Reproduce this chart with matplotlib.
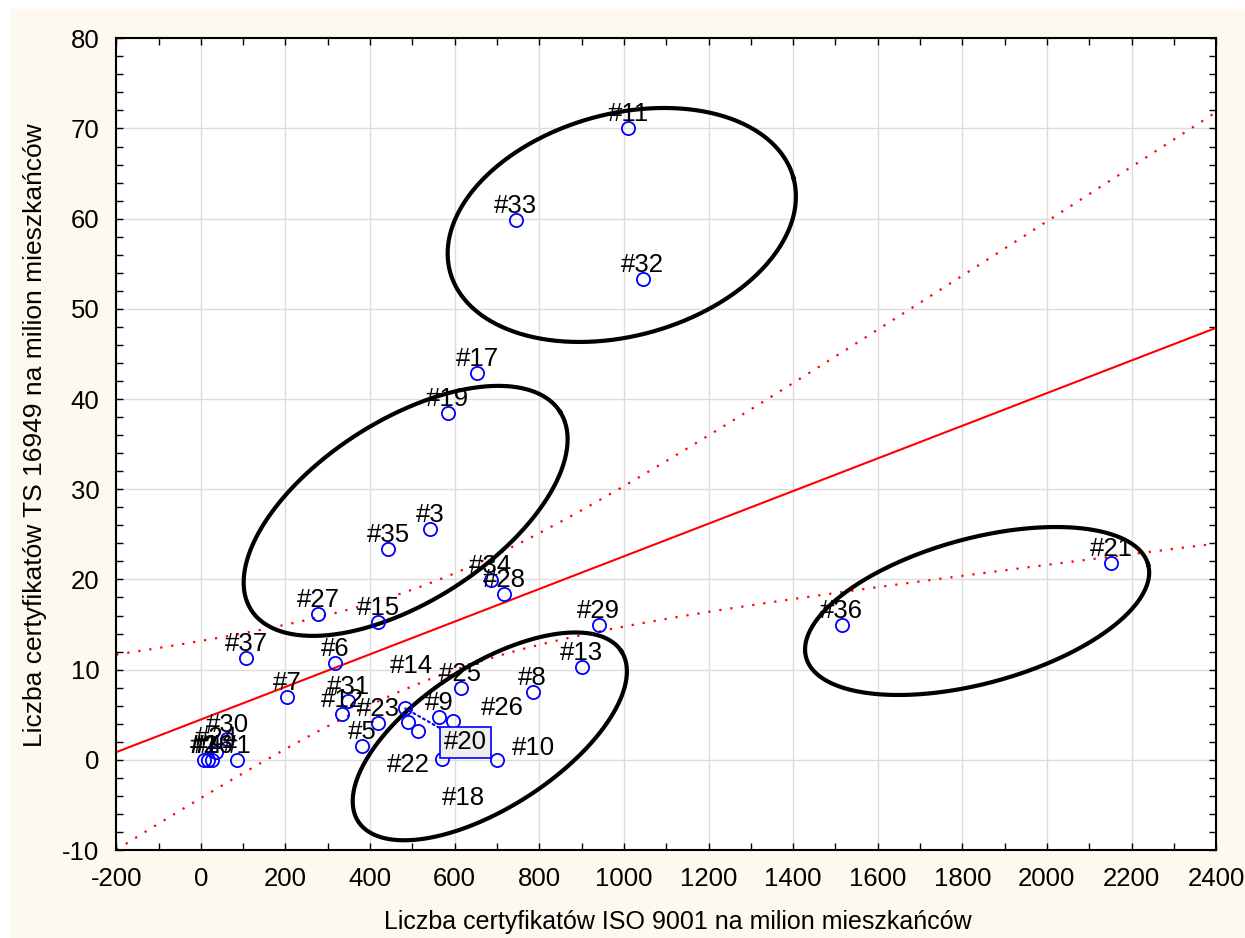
import numpy as np
import matplotlib
matplotlib.use("Agg")
import matplotlib.pyplot as plt
from matplotlib.patches import Rectangle
from matplotlib.ticker import MultipleLocator

plt.rcParams['font.family'] = ['Liberation Sans', 'DejaVu Sans']
plt.rcParams['axes.unicode_minus'] = False

# case labels and values (ISO 9001 / TS 16949 per million inhabitants)
labels = ['#11', '#33', '#32', '#17', '#19', '#3', '#35', '#34', '#28', '#27',
          '#15', '#29', '#36', '#21', '#37', '#6', '#13', '#7', '#8', '#25',
          '#31', '#12', '#23', '#5', '#20', '#14', '#22', '#9', '#26', '#18',
          '#10', '#30', '#1', '#2', '#4', '#16', '#24']
iso = [1010, 744, 1044, 653, 583, 542, 443, 685, 717, 277,
       419, 940, 1515, 2152, 107, 317, 900, 204, 784, 614,
       348, 334, 419, 381, 483, 490, 513, 563, 595, 570,
       700, 62, 85, 7, 17, 26, 36]
ts = [70.0, 59.8, 53.3, 42.9, 38.4, 25.6, 23.4, 19.9, 18.35, 16.2,
      15.3, 15.0, 14.95, 21.8, 11.3, 10.7, 10.3, 7.0, 7.55, 7.96,
      6.5, 5.1, 4.1, 1.5, 5.7, 4.2, 3.2, 4.7, 4.3, 0.1,
      0.0, 2.3, 0.0, 0.0, 0.0, 0.0, 0.9]

# labels that were dragged away from their points (offset in pixels)
moved = {'#20': (60, -34), '#14': (3, 56), '#22': (-10, -34),
         '#26': (50, 13), '#18': (21, -39), '#10': (36, 12)}

# ellipses: centre (data), semi-axes (px), angle (deg)
ell_centres = [(995, 59.3), (484, 27.6), (683, 2.6), (1835, 16.5)]
ell_axes = [(178, 111), (183.5, 90.5), (156.7, 71.0), (177.2, 72.5)]
ell_angles = [15.4, 32.7, 32.9, 15.2]

x = np.array(iso, float)
y = np.array(ts, float)

fig = plt.figure(figsize=(12.45, 9.38), dpi=100)
fig.patch.set_facecolor('white')
fig.patches.append(Rectangle((10/1245, 0), 1, 1 - 9/938, transform=fig.transFigure,
                             facecolor='#fdf9ef', edgecolor='none', zorder=-10))
ax = fig.add_axes([0.0934, 0.0938, 0.8834, 0.8654])
ax.set_xlim(-200, 2400)
ax.set_ylim(-10, 80)
ax.xaxis.set_major_locator(MultipleLocator(200))
ax.xaxis.set_minor_locator(MultipleLocator(100))
ax.yaxis.set_major_locator(MultipleLocator(10))
ax.yaxis.set_minor_locator(MultipleLocator(2))
ax.tick_params(which='both', direction='in', top=True, right=True, length=5,
               width=1, labelsize=18.5, pad=12)
ax.grid(True, which='major', color='#dcdcdc', lw=1)
ax.set_axisbelow(True)
for s in ax.spines.values():
    s.set_linewidth(1.5)

# regression + 95% confidence band
n = len(x)
b, a = np.polyfit(x, y, 1)
xs = np.linspace(-200, 2400, 300)
fit = a + b * xs
resid = y - (a + b * x)
s_err = np.sqrt(np.sum(resid**2) / (n - 2))
t = 2.03
band = t * s_err * np.sqrt(1/n + (xs - x.mean())**2 / np.sum((x - x.mean())**2))
ax.plot(xs, fit, color='red', lw=1.5, zorder=2)
ax.plot(xs, fit + band, color='red', lw=1.6, ls=(0, (1, 4)), zorder=2)
ax.plot(xs, fit - band, color='red', lw=1.6, ls=(0, (1, 4)), zorder=2)

# ellipses drawn in pixel space, converted back to data
ax_w = 0.8834 * 1245
ax_h = 0.8654 * 938
sx = 2600 / ax_w
sy = 90 / ax_h
phi = np.linspace(0, 2*np.pi, 400)
for (cx, cy), (ea, eb), ang in zip(ell_centres, ell_axes, ell_angles):
    th = np.radians(ang)
    px = ea*np.cos(phi)*np.cos(th) - eb*np.sin(phi)*np.sin(th)
    py = ea*np.cos(phi)*np.sin(th) + eb*np.sin(phi)*np.cos(th)
    ax.plot(cx + px*sx, cy + py*sy, color='black', lw=3, zorder=3)

ax.plot(x, y, 'o', mfc='none', mec='blue', ms=9.5, mew=1.3, zorder=4)

for lab, xi, yi in zip(labels, x, y):
    dx, dy = moved.get(lab, (0, 14))
    if lab == '#20':
        ax.annotate(lab, (xi, yi), xytext=(dx, dy), textcoords='offset pixels',
                    ha='center', va='center', fontsize=18.5, zorder=5,
                    bbox=dict(boxstyle='square,pad=0.15', fc='#eeeeee', ec='blue', lw=1.2),
                    arrowprops=dict(arrowstyle='-', color='blue', ls=':', lw=1.5,
                                    shrinkA=0, shrinkB=0))
    else:
        ax.annotate(lab, (xi, yi), xytext=(dx, dy), textcoords='offset pixels',
                    ha='center', va='center', fontsize=18.5, zorder=5)

ax.set_xlabel('Liczba certyfikatów ISO 9001 na milion mieszkańców', fontsize=18)
ax.set_ylabel('Liczba certyfikatów TS 16949 na milion mieszkańców', fontsize=19)
ax.xaxis.set_label_coords(0.511, -0.074)
ax.yaxis.set_label_coords(-0.063, 0.511)

fig.savefig('out.png', dpi=100, facecolor=fig.get_facecolor())
